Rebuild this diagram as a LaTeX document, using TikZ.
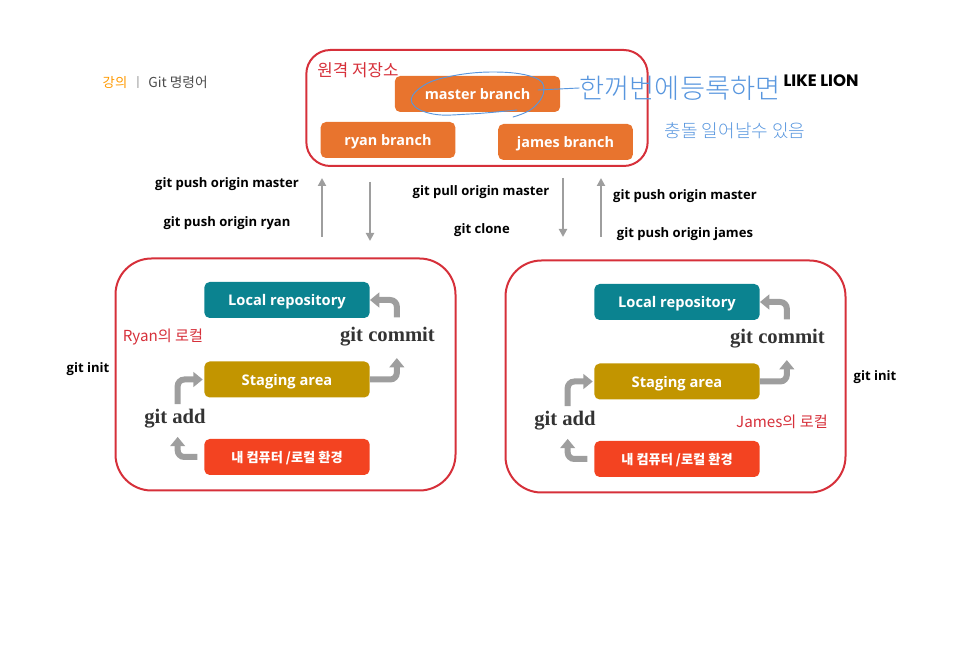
\documentclass[tikz,border=0pt]{standalone}
\usepackage{fontspec}
\setmainfont{Open Sans}
\newfontfamily\krfont{Noto Sans CJK KR}
\newfontfamily\penfont{Noto Sans CJK KR Light}
\newfontfamily\serifbold{Liberation Serif}
\newfontfamily\logofont{Poppins}
\usetikzlibrary{arrows.meta}
\definecolor{branchorange}{RGB}{232,116,46}
\definecolor{repoteal}{RGB}{11,131,144}
\definecolor{stagegold}{RGB}{194,149,0}
\definecolor{pcred}{RGB}{243,67,33}
\definecolor{panelred}{RGB}{214,48,58}
\definecolor{flowgray}{RGB}{158,158,158}
\definecolor{penblue}{RGB}{88,150,222}
\tikzset{
  panel/.style={draw=panelred,line width=1.5pt,rounded corners=27pt,minimum width=255pt,minimum height=174pt},
  toppanel/.style={draw=panelred,line width=1.5pt,rounded corners=18pt,minimum width=256pt,minimum height=87pt},
  branch/.style={fill=branchorange,rounded corners=4pt,text=white,font=\bfseries\fontsize{10.8}{14}\selectfont,text height=11pt,text depth=2pt,minimum width=101pt,minimum height=27pt,inner sep=0pt},
  stage/.style={rounded corners=4pt,text=white,font=\bfseries\fontsize{11}{14}\selectfont,text height=11pt,text depth=2pt,minimum width=124pt,minimum height=27pt,inner sep=0pt},
  cmd/.style={font=\bfseries\fontsize{9.8}{12}\selectfont,inner sep=0pt},
  serifcmd/.style={font=\serifbold\bfseries\fontsize{15.5}{17}\selectfont,text=black!80,inner sep=1pt},
  redlabel/.style={text=panelred,font=\krfont\fontsize{11.4}{14}\selectfont,inner sep=0pt},
  penlabel/.style={text=penblue,font=\penfont\fontsize{20.5}{24}\selectfont,inner sep=0pt},
  flow/.style={draw=flowgray,line width=4.5pt,rounded corners=5pt,-{Triangle[length=7pt,width=11pt]}},
  syncline/.style={draw=flowgray,line width=1.6pt,-{Triangle[length=6pt,width=6pt]}},
  pen/.style={draw=penblue,line width=0.7pt,line cap=round}
}
\begin{document}
\begin{tikzpicture}[x=0.75pt,y=-0.75pt]
  \useasboundingbox (0,0) rectangle (961,648);
  % slide title
  \node[text=orange!80!yellow,font=\krfont\fontsize{10}{12}\selectfont] (lecture) at (115,82.5) {강의};
  \node[text=black!60,font=\krfont\fontsize{8}{12}\selectfont] (titlebar) at (138,82.5) {|};
  \node[text=black!70,font=\krfont\fontsize{10.3}{12}\selectfont] (titletext) at (178,82.5) {Git 명령어};
  \node[font=\logofont\bfseries\fontsize{12.4}{14}\selectfont,inner sep=0pt] (likelion) at (821,80.5) {LIKE LION};
  % remote repository
  \node[toppanel] (remote) at (477,108) {};
  \node[redlabel,font=\krfont\fontsize{12.6}{15}\selectfont] (remotelabel) at (358,70) {원격 저장소};
  \node[branch,minimum width=124pt] (master) at (477.5,94) {master branch};
  \node[branch] (ryanbranch) at (388,140) {ryan branch};
  \node[branch] (jamesbranch) at (565.5,142) {james branch};
  % local repositories
  \foreach \who/\dx/\dy in {ryan/0/0,james/390/2}{
    \begin{scope}[shift={(\dx,\dy)}]
      \node[panel] (\who panel) at (285.5,374.5) {};
      \node[stage,fill=repoteal] (\who repo) at (287,300) {Local repository};
      \node[stage,fill=stagegold] (\who stage) at (287,379.5) {Staging area};
      \node[stage,fill=pcred,font=\krfont\bfseries\fontsize{9.9}{12}\selectfont] (\who pc) at (287,457) {내 컴퓨터 /로컬 환경};
      \node[serifcmd] (\who add) at (175,418.5) {git add};
      \node[serifcmd] (\who commit) at (387.5,337) {git commit};
      \draw[flow,shorten <=5pt,shorten >=5.5pt] (\who pc.west) -| ([xshift=2pt]\who add.south);
      \draw[flow,shorten <=2.5pt,shorten >=1pt] ([xshift=2pt]\who add.north) |- (\who stage.west);
      \draw[flow,shorten >=7.5pt] (\who stage.east) -| ([xshift=7pt]\who commit.south);
      \draw[flow,shorten <=6.5pt] ([xshift=7pt]\who commit.north) |- (\who repo.east);
    \end{scope}
  }
  \node[redlabel] (ryanlabel) at (163,337) {Ryan의 로컬};
  \node[redlabel] (jameslabel) at (782,422) {James의 로컬};
  \node[cmd] (initleft) at (88,369) {git init};
  \node[cmd] (initright) at (875,377) {git init};
  % push and pull between local and remote
  \coordinate (pushrtop) at (322,178);
  \coordinate (pushrbot) at (322,237);
  \coordinate (pullrtop) at (370,182);
  \coordinate (pullrbot) at (370,241);
  \coordinate (pulljtop) at (563,178);
  \coordinate (pulljbot) at (563,237);
  \coordinate (pushjtop) at (601,178);
  \coordinate (pushjbot) at (601,237);
  \draw[syncline] (pushrbot) -- (pushrtop);
  \draw[syncline] (pullrtop) -- (pullrbot);
  \draw[syncline] (pulljtop) -- (pulljbot);
  \draw[syncline] (pushjbot) -- (pushjtop);
  \node[cmd] (pushrmaster) at (227,184) {git push origin master};
  \node[cmd] (pushryan) at (227,223) {git push origin ryan};
  \node[cmd] (pullmaster) at (481,192) {git pull origin master};
  \node[cmd] (clone) at (482,230) {git clone};
  \node[cmd] (pushjmaster) at (685,196) {git push origin master};
  \node[cmd] (pushjames) at (685,234) {git push origin james};
  % handwritten note
  \draw[pen] plot[smooth,tension=0.7] coordinates {(517,110) (470,114) (433,114) (412,103) (420,88) (447,77) (493,72) (533,77) (544,90) (533,108) (513,117)};
  \node[penlabel] (notefirst) at (680,88) {한꺼번에등록하면};
  \node[penlabel,font=\penfont\fontsize{13.5}{16}\selectfont] (notesecond) at (735,131) {충돌 일어날수 있음};
  \draw[pen] (538,90) -- (notefirst.west);
\end{tikzpicture}
\end{document}
